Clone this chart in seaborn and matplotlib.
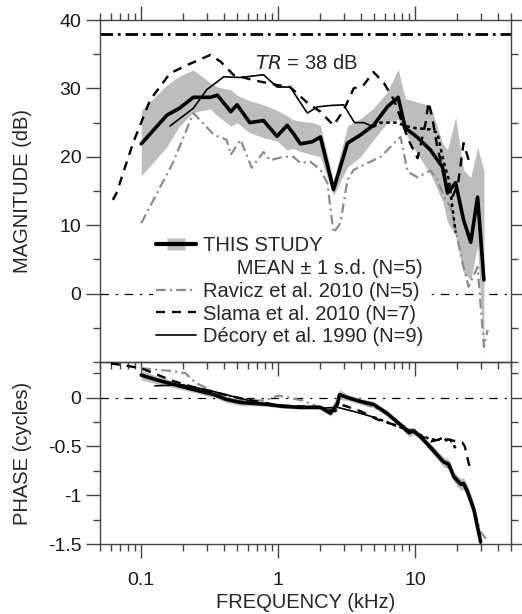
import matplotlib
matplotlib.use("Agg")
import matplotlib.pyplot as plt
import matplotlib.ticker as mticker
from matplotlib.lines import Line2D
import seaborn as sns

# ---- this study: magnitude mean and +/- 1 s.d. band (dB)
mag_freq = [0.1, 0.154, 0.19, 0.24, 0.32, 0.36, 0.45, 0.50, 0.62, 0.78, 0.98, 1.16, 1.29, 1.45,
            1.77, 2.03, 2.53, 3.2, 3.98, 4.95, 6.25, 7.5, 8.45, 10.3, 12.9, 15.8, 17.2, 19.7,
            22.5, 25.4, 28.5, 31.7]
mag_mean = [21.9, 26.1, 27.1, 28.7, 28.7, 29.0, 26.6, 27.6, 25.0, 25.3, 23.0, 24.6, 23.4, 21.9,
            22.2, 22.9, 15.2, 22.0, 23.2, 24.6, 27.3, 28.7, 24.2, 22.9, 21.0, 18.5, 14.7, 16.2,
            10.8, 7.5, 14.1, 2.0]
mag_hi = [26.8, 30.5, 31.8, 32.7, 30.8, 30.2, 29.8, 29.0, 28.2, 27.6, 26.8, 26.0, 25.4, 25.2,
          25.0, 24.6, 16.5, 24.5, 25.6, 27.1, 29.5, 32.8, 28.5, 28.0, 27.5, 22.0, 21.0, 25.8,
          18.1, 17.0, 21.4, 18.0]
mag_lo = [17.2, 21.5, 24.5, 26.5, 27.0, 26.0, 24.5, 25.0, 23.5, 22.8, 22.3, 21.0, 21.2, 20.8,
          20.3, 20.0, 14.3, 18.5, 20.0, 22.5, 25.0, 25.5, 23.5, 20.5, 17.5, 13.5, 10.5, 8.5,
          3.0, 2.0, 7.0, -9.0]

# ---- this study: phase mean and s.d. (cycles)
ph_freq = [0.1, 0.13, 0.215, 0.34, 0.42, 0.53, 0.83, 1.09, 1.45, 2.03, 2.4, 2.7, 2.8, 3.2, 3.98,
           4.95, 6.2, 7.8, 9.0, 9.7, 10.9, 12.9, 16.1, 17.5, 19.1, 21.5, 22.5, 24.0, 26.8, 30.0]
ph_mean = [0.23, 0.18, 0.10, 0.03, -0.02, -0.05, -0.07, -0.09, -0.10, -0.10, -0.16, -0.07, 0.03,
           0.0, -0.04, -0.07, -0.16, -0.28, -0.36, -0.34, -0.40, -0.51, -0.66, -0.68, -0.81,
           -0.89, -0.88, -0.96, -1.15, -1.48]
ph_sd = [0.05, 0.04, 0.03, 0.03, 0.03, 0.03, 0.02, 0.02, 0.02, 0.02, 0.03, 0.04, 0.05, 0.03, 0.03,
         0.03, 0.03, 0.03, 0.04, 0.04, 0.03, 0.04, 0.05, 0.05, 0.05, 0.06, 0.06, 0.07, 0.07, 0.04]

# ---- Ravicz et al. 2010
rav_freq = [0.1, 0.17, 0.24, 0.34, 0.42, 0.45, 0.53, 0.64, 0.78, 0.87, 1.09, 1.29, 1.45, 1.71,
            2.03, 2.28, 2.53, 2.84, 3.2, 3.55, 4.5, 5.6, 7.0, 7.8, 8.8, 10.4, 12.9, 14.5, 16.6,
            18.1, 22.5, 24.5, 28.5, 31.7, 33.7]
rav_mag = [10.3, 19.1, 26.4, 23.2, 22.5, 20.3, 22.5, 18.4, 20.7, 19.5, 20.0, 20.0, 19.1, 19.3,
           18.1, 16.2, 8.9, 10.3, 16.6, 18.1, 19.1, 20.0, 22.0, 22.9, 17.8, 17.0, 18.0, 16.6, 13.7,
           12.7, 3.9, 1.0, 3.9, -7.8, -5.3]
rav_ph_freq = [0.1, 0.17, 0.21, 0.25, 0.35, 0.5, 0.8, 1.0, 1.5, 2.0, 2.5, 2.8, 4.0, 6.0, 8.0,
               10.0, 13.0, 16.0, 20.0, 24.0, 27.0, 30.0, 33.0]
rav_ph = [0.30, 0.27, 0.25, 0.15, 0.05, -0.03, -0.03, 0.02, -0.03, -0.10, -0.12, 0.02, -0.05,
          -0.15, -0.28, -0.35, -0.50, -0.65, -0.82, -0.95, -1.15, -1.38, -1.45]

# ---- Slama et al. 2010
sla_freq = [0.062, 0.066, 0.087, 0.116, 0.162, 0.215, 0.32, 0.38, 0.47, 0.66, 0.98, 1.22, 1.63,
            2.03, 2.53, 3.0, 3.55, 4.2, 4.95, 5.9, 7.0, 8.9, 10.4, 11.9, 12.5, 13.4, 14.5, 15.8,
            18.5, 20.5, 22.5, 25.0]
sla_mag = [13.7, 14.7, 22.0, 28.3, 32.2, 33.4, 34.9, 33.9, 32.0, 31.2, 30.5, 30.2, 27.9, 26.6,
           24.6, 26.8, 30.0, 30.5, 32.4, 30.8, 28.3, 22.5, 19.8, 25.0, 28.0, 25.4, 21.3, 18.5,
           14.0, 16.0, 22.0, 19.0]
sla_ph_freq = [0.06, 0.075, 0.1, 0.17, 0.25, 0.5, 1.0, 2.0, 2.6, 3.0, 4.0, 5.2, 7.8, 10.0, 13.0,
               16.0, 22.0, 23.0, 24.5, 25.4]
sla_ph = [0.35, 0.33, 0.30, 0.17, 0.10, 0.0, -0.08, -0.10, -0.14, -0.08, -0.14, -0.22, -0.30,
          -0.36, -0.45, -0.42, -0.46, -0.50, -0.67, -0.74]

# ---- Decory et al. 1990 (solid, then dotted above ~5 kHz)
dec_freq = [0.162, 0.24, 0.30, 0.40, 0.53, 0.78, 0.98, 1.22, 1.63, 1.93, 2.4, 3.0, 3.6, 4.2, 4.95]
dec_mag = [24.5, 27.1, 29.8, 31.7, 31.6, 32.0, 30.2, 30.2, 26.4, 27.3, 27.5, 27.6, 25.0, 25.0, 24.4]
dec_dot_freq = [4.95, 5.6, 7.3, 8.5, 10.0, 12.9, 14.5, 16.0, 17.6, 19.7]
dec_dot_mag = [24.4, 25.0, 25.0, 24.5, 24.2, 24.0, 23.5, 19.5, 16.6, 8.9]
dec_ph_freq = [0.126, 0.2, 0.3, 0.5, 0.7, 1.0, 2.0, 2.7, 3.5, 4.95]
dec_ph = [0.12, 0.13, 0.08, 0.0, -0.05, -0.09, -0.11, -0.10, -0.14, -0.20]
dec_dot_ph_freq = [4.95, 7.0, 10.0, 13.0, 14.8, 16.0, 17.2, 18.0, 19.7]
dec_dot_ph = [-0.20, -0.28, -0.36, -0.43, -0.43, -0.41, -0.45, -0.43, -0.52]

TR_DB = 38

sns.set_theme(style="ticks")
plt.rcParams["font.family"] = ["Liberation Sans", "DejaVu Sans"]
plt.rcParams["lines.scale_dashes"] = False

band_col = "#bdbdbd"
rav_col = "#8c8c8c"
spine_col = "#444444"
dash_sla = (0, (6.5, 5))
dash_rav = (0, (7, 3, 1.5, 3))
dash_dot = (0, (2.5, 2.5))

fig = plt.figure(figsize=(5.22, 6.14), dpi=100)
ax_mag = fig.add_axes([0.1916, 0.4104, 0.7874, 0.5570])
ax_ph = fig.add_axes([0.1916, 0.114, 0.7874, 0.2964])
ax_ph.set_facecolor("none")

# ---- magnitude panel
ax_mag.fill_between(mag_freq, mag_lo, mag_hi, color=band_col, lw=0, zorder=1)
sns.lineplot(x=rav_freq, y=rav_mag, ax=ax_mag, color=rav_col, lw=1.6, linestyle=dash_rav, zorder=2)
sns.lineplot(x=sla_freq, y=sla_mag, ax=ax_mag, color="black", lw=1.7, linestyle=dash_sla, zorder=3)
sns.lineplot(x=dec_freq, y=dec_mag, ax=ax_mag, color="black", lw=1.2, zorder=3)
sns.lineplot(x=dec_dot_freq, y=dec_dot_mag, ax=ax_mag, color="black", lw=1.8, linestyle=dash_dot, zorder=3)
sns.lineplot(x=mag_freq, y=mag_mean, ax=ax_mag, color="black", lw=2.6, zorder=4)
ax_mag.axhline(TR_DB, color="black", lw=2, linestyle=(0, (9, 3.5, 2, 3.5)), zorder=2)
ax_mag.axhline(0, color="black", lw=0.9, linestyle=(0, (6, 5, 1.5, 5)), zorder=0)
ax_mag.text(1.6, 33.7, "$\\it{TR}$ = 38 dB", ha="center", va="center", fontsize=14.5)

# ---- phase panel
ph_lo = [m - s for m, s in zip(ph_mean, ph_sd)]
ph_hi = [m + s for m, s in zip(ph_mean, ph_sd)]
ax_ph.fill_between(ph_freq, ph_lo, ph_hi, color=band_col, lw=0, zorder=1)
sns.lineplot(x=rav_ph_freq, y=rav_ph, ax=ax_ph, color=rav_col, lw=1.6, linestyle=dash_rav, zorder=2)
sns.lineplot(x=sla_ph_freq, y=sla_ph, ax=ax_ph, color="black", lw=1.7, linestyle=dash_sla, zorder=3)
sns.lineplot(x=dec_ph_freq, y=dec_ph, ax=ax_ph, color="black", lw=1.2, zorder=3)
sns.lineplot(x=dec_dot_ph_freq, y=dec_dot_ph, ax=ax_ph, color="black", lw=1.8, linestyle=dash_dot, zorder=3)
sns.lineplot(x=ph_freq, y=ph_mean, ax=ax_ph, color="black", lw=2.6, zorder=4)
ax_ph.axhline(0, color="black", lw=0.9, linestyle=(0, (6, 5, 1.5, 5)), zorder=0)

# ---- axes styling
for ax in (ax_mag, ax_ph):
    ax.set_xscale("log")
    ax.set_xlim(0.05, 50)
    ax.xaxis.set_major_locator(mticker.FixedLocator([0.1, 1, 10]))
    ax.xaxis.set_minor_locator(mticker.LogLocator(base=10, subs=range(2, 10), numticks=20))
    ax.xaxis.set_minor_formatter(mticker.NullFormatter())
    for sp in ax.spines.values():
        sp.set_visible(True)
        sp.set_color(spine_col)
        sp.set_linewidth(1.0)
    ax.tick_params(which="both", direction="out", color=spine_col, width=1.0,
                   labelsize=14, labelcolor="#1a1a1a", pad=3.5, right=True)
    ax.tick_params(which="major", length=10)
    ax.tick_params(which="minor", length=5)

ax_mag.set_ylim(-10, 40)
ax_mag.yaxis.set_major_locator(mticker.FixedLocator([0, 10, 20, 30, 40]))
ax_mag.yaxis.set_minor_locator(mticker.MultipleLocator(5))
ax_mag.tick_params(axis="x", which="both", top=True, bottom=True, labelbottom=False)
ax_mag.set_ylabel("MAGNITUDE (dB)", fontsize=14.5)
ax_mag.yaxis.set_label_coords(-0.165, 0.5)

ax_ph.set_ylim(-1.5, 0.364)
ax_ph.yaxis.set_major_locator(mticker.FixedLocator([-1.5, -1, -0.5, 0]))
ax_ph.yaxis.set_minor_locator(mticker.MultipleLocator(0.25))
ax_ph.yaxis.set_major_formatter(mticker.FuncFormatter(lambda v, p: f"{v:g}"))
ax_ph.xaxis.set_major_formatter(mticker.FuncFormatter(lambda v, p: f"{v:g}"))
ax_ph.tick_params(axis="x", which="both", top=False, bottom=True)
ax_ph.tick_params(axis="x", which="major", pad=10)
ax_ph.set_ylabel("PHASE (cycles)", fontsize=14.5)
ax_ph.yaxis.set_label_coords(-0.165, 0.5)
ax_ph.set_xlabel("FREQUENCY (kHz)", fontsize=14.5, labelpad=3)

# ---- legend (white box without edge hides the 0 dB line behind the text)
rect = [(-1.6, -1), (1.6, -1), (1.6, 1), (-1.6, 1)]
h_study = (Line2D([], [], ls="none", marker=rect, ms=13, mfc=band_col, mec="none"),
           Line2D([], [], color="black", lw=3))
h_blank = Line2D([], [], color="none")
h_rav = Line2D([], [], color=rav_col, lw=1.6, linestyle=dash_rav)
h_sla = Line2D([], [], color="black", lw=1.7, linestyle=dash_sla)
h_dec = Line2D([], [], color="black", lw=1.2)
leg = ax_mag.legend([h_study, h_blank, h_rav, h_sla, h_dec],
                    ["THIS STUDY", "      MEAN \u00b1 1 s.d. (N=5)", "Ravicz et al. 2010 (N=5)",
                     "Slama et al. 2010 (N=7)", "D\u00e9cory et al. 1990 (N=9)"],
                    loc="upper left", bbox_to_anchor=(0.128, 0.378), frameon=True,
                    fancybox=False, facecolor="white", edgecolor="none", framealpha=1,
                    fontsize=14.5, handlelength=2.0, handletextpad=0.35, labelspacing=0.195,
                    borderpad=0.15, borderaxespad=0)
leg.set_zorder(5)

fig.savefig("out.png", dpi=100)
